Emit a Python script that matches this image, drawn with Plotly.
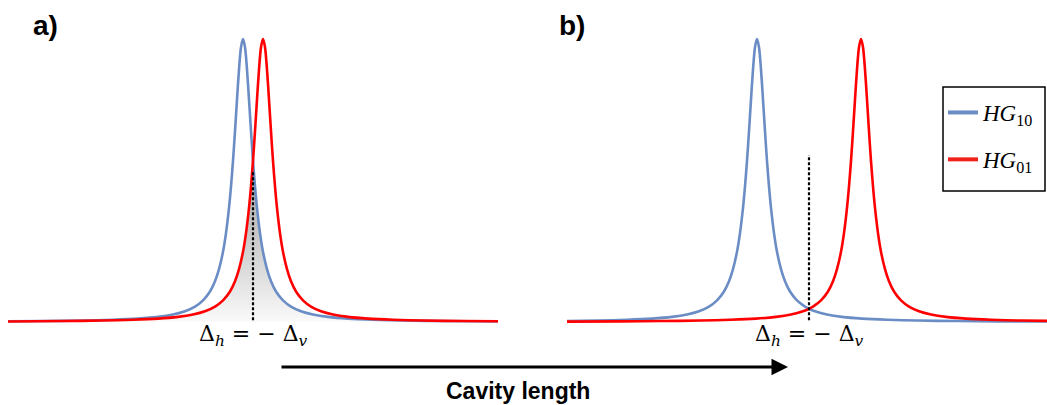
import plotly.graph_objects as go

# ---- data (detuning / cavity length, arbitrary units; transmission normalised) ----
# panel a) : modes almost degenerate
a_hg10_x = [-24.5, -21.0, -17.0, -14.0, -11.5, -9.5, -8.0, -6.8, -5.8, -5.0, -4.3, -3.8, -3.4, -3.0,
            -2.7, -2.4, -2.2, -2.0, -1.8, -1.6, -1.4, -1.2, -1.0, -0.8, -0.6, -0.4, -0.2, 0.0, 0.2,
            0.4, 0.7, 1.0, 1.4, 1.8, 2.3, 3.0, 3.8, 4.8, 6.0, 7.5, 9.5, 12.0, 15.0, 19.0, 24.5]
a_hg10_y = [0.0024, 0.0033, 0.0051, 0.0078, 0.0119, 0.0180, 0.0263, 0.0378, 0.0543, 0.0764, 0.108,
            0.144, 0.187, 0.248, 0.314, 0.403, 0.479, 0.569, 0.674, 0.786, 0.892, 0.971, 1.0, 0.971,
            0.892, 0.786, 0.674, 0.569, 0.479, 0.403, 0.314, 0.248, 0.187, 0.144, 0.108, 0.0764,
            0.0543, 0.0378, 0.0263, 0.0180, 0.0119, 0.0078, 0.0051, 0.0033, 0.0020]
a_hg01_x = [-24.5, -19.0, -15.0, -12.0, -9.5, -7.5, -6.0, -4.8, -3.8, -3.0, -2.3, -1.8, -1.4, -1.0,
            -0.7, -0.4, -0.2, 0.0, 0.2, 0.4, 0.6, 0.8, 1.0, 1.2, 1.4, 1.6, 1.8, 2.0, 2.2, 2.4, 2.7,
            3.0, 3.4, 3.8, 4.3, 5.0, 5.8, 6.8, 8.0, 9.5, 11.5, 14.0, 17.0, 21.0, 24.5]
a_hg01_y = [0.0020, 0.0033, 0.0051, 0.0078, 0.0119, 0.0180, 0.0263, 0.0378, 0.0543, 0.0764, 0.108,
            0.144, 0.187, 0.248, 0.314, 0.403, 0.479, 0.569, 0.674, 0.786, 0.892, 0.971, 1.0, 0.971,
            0.892, 0.786, 0.674, 0.569, 0.479, 0.403, 0.314, 0.248, 0.187, 0.144, 0.108, 0.0764,
            0.0543, 0.0378, 0.0263, 0.0180, 0.0119, 0.0078, 0.0051, 0.0033, 0.0024]

# panel b) : modes well separated
b_hg10_x = [-24.2, -21.2, -18.2, -15.7, -13.7, -12.2, -11.0, -10.0, -9.2, -8.5, -8.0, -7.6, -7.2,
            -6.9, -6.6, -6.4, -6.2, -6.0, -5.8, -5.6, -5.4, -5.2, -5.0, -4.8, -4.6, -4.4, -4.2,
            -4.0, -3.8, -3.5, -3.2, -2.8, -2.4, -1.9, -1.2, -0.4, 0.0, 0.6, 1.8, 3.3, 5.3, 7.8,
            10.8, 14.8, 18.8, 23.8]
b_hg10_y = [0.0036, 0.0051, 0.0078, 0.0119, 0.0180, 0.0263, 0.0378, 0.0543, 0.0764, 0.108, 0.144,
            0.187, 0.248, 0.314, 0.403, 0.479, 0.569, 0.674, 0.786, 0.892, 0.971, 1.0, 0.971, 0.892,
            0.786, 0.674, 0.569, 0.479, 0.403, 0.314, 0.248, 0.187, 0.144, 0.108, 0.0764, 0.0543,
            0.0466, 0.0378, 0.0263, 0.0180, 0.0119, 0.0078, 0.0051, 0.0033, 0.0023, 0.0016]
b_hg01_x = [-24.2, -18.8, -14.8, -10.8, -7.8, -5.3, -3.3, -1.8, -0.6, 0.0, 0.4, 1.2, 1.9, 2.4, 2.8,
            3.2, 3.5, 3.8, 4.0, 4.2, 4.4, 4.6, 4.8, 5.0, 5.2, 5.4, 5.6, 5.8, 6.0, 6.2, 6.4, 6.6, 6.9,
            7.2, 7.6, 8.0, 8.5, 9.2, 10.0, 11.0, 12.2, 13.7, 15.7, 18.2, 21.2, 23.8]
b_hg01_y = [0.0015, 0.0023, 0.0033, 0.0051, 0.0078, 0.0119, 0.0180, 0.0263, 0.0378, 0.0466, 0.0543,
            0.0764, 0.108, 0.144, 0.187, 0.248, 0.314, 0.403, 0.479, 0.569, 0.674, 0.786, 0.892,
            0.971, 1.0, 0.971, 0.892, 0.786, 0.674, 0.569, 0.479, 0.403, 0.314, 0.248, 0.187, 0.144,
            0.108, 0.0764, 0.0543, 0.0378, 0.0263, 0.0180, 0.0119, 0.0078, 0.0051, 0.0038]

series_names = ["<i>HG</i><sub>10</sub>", "<i>HG</i><sub>01</sub>"]
panel_labels = ["a)", "b)"]
crossing_label = "Δ<sub><i>h</i></sub>\u00a0=\u00a0−\u00a0Δ<sub><i>v</i></sub>"
axis_title = "Cavity length"

BLUE = "#6b8dc5"
RED = "#ff0000"
LEG_RED = "#f0201a"
W, H = 1047, 405

# overlap region (under both curves) in panel a
ov_x = [x for x in a_hg01_x if x <= 0] + [x for x in a_hg10_x if x > 0]
ov_y = [y for x, y in zip(a_hg01_x, a_hg01_y) if x <= 0] + [y for x, y in zip(a_hg10_x, a_hg10_y) if x > 0]

fig = go.Figure()
fig.add_trace(go.Scatter(
    x=ov_x, y=ov_y, xaxis="x", yaxis="y", mode="lines",
    line=dict(width=0, shape="spline", smoothing=0.8), fill="tozeroy",
    fillgradient=dict(type="vertical",
                      colorscale=[[0, "rgba(250,250,250,1)"], [0.4, "rgba(212,212,212,1)"],
                                  [1, "rgba(165,165,165,1)"]]),
    showlegend=False, hoverinfo="skip"))

for xs, ys, col, ax in [(a_hg10_x, a_hg10_y, BLUE, "x"), (a_hg01_x, a_hg01_y, RED, "x")]:
    fig.add_trace(go.Scatter(x=xs, y=ys, xaxis=ax, yaxis="y", mode="lines",
                             line=dict(color=col, width=2.6, shape="spline", smoothing=0.8),
                             showlegend=False))

for xs, ys, col in [(b_hg10_x, b_hg10_y, BLUE), (b_hg01_x, b_hg01_y, RED)]:
    fig.add_trace(go.Scatter(x=xs, y=ys, xaxis="x2", yaxis="y", mode="lines",
                             line=dict(color=col, width=2.6, shape="spline", smoothing=0.8),
                             showlegend=False))

# legend entries (thicker sample lines as in the reference)
for name, col, grp in [(series_names[0], BLUE, "g1"), (series_names[1], LEG_RED, "g2")]:
    fig.add_trace(go.Scatter(x=[None], y=[None], xaxis="x2", yaxis="y", mode="lines", name=name,
                             legendgroup=grp, line=dict(color=col, width=4)))

# dotted markers at the crossing point
fig.add_shape(type="line", xref="x", yref="y", x0=0, x1=0, y0=0.006, y1=0.53,
              line=dict(color="black", width=2.2, dash="3px,2px"))
fig.add_shape(type="line", xref="x2", yref="y", x0=0, x1=0, y0=0.006, y1=0.59,
              line=dict(color="black", width=2.2, dash="3px,2px"))

for xr in ["x", "x2"]:
    fig.add_annotation(x=0, y=0.012, xref=xr, yref="y", text=crossing_label, showarrow=False,
                       yanchor="top", xanchor="center",
                       font=dict(family="DejaVu Serif", size=22, color="black"))

fig.add_annotation(x=45.5 / W, y=1 - 25 / H, xref="paper", yref="paper", text="<b>" + panel_labels[0] + "</b>",
                   showarrow=False, xanchor="center", yanchor="middle",
                   font=dict(family="Liberation Sans", size=28, color="black"))
fig.add_annotation(x=572 / W, y=1 - 25 / H, xref="paper", yref="paper", text="<b>" + panel_labels[1] + "</b>",
                   showarrow=False, xanchor="center", yanchor="middle",
                   font=dict(family="Liberation Sans", size=28, color="black"))

# cavity length arrow
fig.add_annotation(x=788 / W, y=1 - 367 / H, xref="paper", yref="paper", text="",
                   showarrow=True, ax=-508, ay=0, arrowhead=2, arrowsize=1.1, arrowwidth=3,
                   arrowcolor="black")
fig.add_annotation(x=518 / W, y=1 - 391 / H, xref="paper", yref="paper",
                   text="<b>" + axis_title + "</b>", showarrow=False,
                   xanchor="center", yanchor="middle",
                   font=dict(family="Liberation Sans", size=23, color="black"))

# legend frame
fig.add_shape(type="rect", xref="paper", yref="paper", x0=943 / W, x1=1045 / W,
              y0=1 - 191 / H, y1=1 - 87 / H, line=dict(color="black", width=1.5),
              fillcolor="rgba(0,0,0,0)")

fig.update_layout(
    width=W, height=H, margin=dict(l=0, r=0, t=0, b=0),
    paper_bgcolor="white", plot_bgcolor="white",
    xaxis=dict(domain=[0, 520 / W], range=[-25.3, 26.7], visible=False),
    xaxis2=dict(domain=[520 / W, 1], range=[-28.9, 23.8], visible=False),
    yaxis=dict(range=[-83 / 283, -83 / 283 + 405 / 283], visible=False),
    legend=dict(x=943 / W, y=1 - 91 / H, xanchor="left", yanchor="top",
                borderwidth=0, bgcolor="rgba(0,0,0,0)",
                tracegroupgap=14,
                font=dict(family="Liberation Serif", size=23, color="black")),
    showlegend=True,
)

fig.write_html("out.html")
